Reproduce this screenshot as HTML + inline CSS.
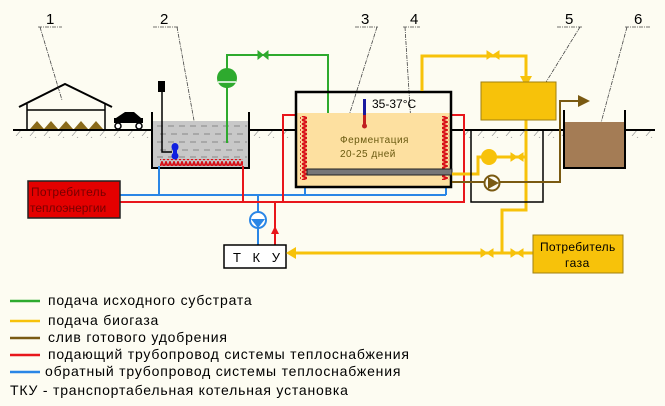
<!DOCTYPE html>
<html><head><meta charset="utf-8"><style>
html,body{margin:0;padding:0;background:#fdfcf2;}
svg{display:block;font-family:"Liberation Sans",sans-serif;}
</style></head><body>
<svg width="665" height="406" viewBox="0 0 665 406" xmlns="http://www.w3.org/2000/svg">
<defs>
<pattern id="coilH" width="4" height="7" patternUnits="userSpaceOnUse"><path d="M0,6 L2,1 L4,6" fill="none" stroke="#d81018" stroke-width="1.8"/></pattern>
<pattern id="coilV" width="7" height="4" patternUnits="userSpaceOnUse"><path d="M1,0 L6,2 L1,4" fill="none" stroke="#d81018" stroke-width="1.8"/></pattern>
<pattern id="hatch" width="14" height="8" patternUnits="userSpaceOnUse"><path d="M2,8 L8,1" stroke="#999" stroke-width="0.7"/></pattern>
</defs>
<rect width="665" height="406" fill="#fdfcf2"/>
<rect x="13" y="131" width="139" height="7" fill="url(#hatch)"/>
<rect x="250" y="131" width="45" height="7" fill="url(#hatch)"/>
<rect x="465" y="131" width="98" height="7" fill="url(#hatch)"/>
<rect x="625" y="131" width="30" height="7" fill="url(#hatch)"/>
<path d="M13,130 H152 M250,130 H295 M452,130 H563 M625,130 H655" stroke="#000" stroke-width="2"/>
<path d="M19,107 L65,84 L112,107" fill="none" stroke="#000" stroke-width="2"/>
<path d="M27,104 V130 M105,104 V130 M27,110 H105" stroke="#000" stroke-width="1.5"/>
<path d="M30,129 l7,-8 7,8 z M44,129 l7,-8 7,8 z M59,129 l7,-8 7,8 z M74,129 l7,-8 7,8 z M89,129 l7,-8 7,8 z" fill="#8a6a1a"/>
<path d="M116,118 L125,112 L134,112 L141,118" fill="#000"/>
<rect x="114" y="118" width="29" height="5" fill="#000"/>
<circle cx="118" cy="126" r="3" fill="#fff" stroke="#000" stroke-width="1.5"/>
<circle cx="139" cy="126" r="3" fill="#fff" stroke="#000" stroke-width="1.5"/>
<g stroke="#444" stroke-width="0.8" fill="none">
<path d="M38,27 H62 M40,27 L62,100" stroke-dasharray="4,1,1,1"/>
<path d="M153,27 H178 M177,27 L197,137" stroke-dasharray="4,1,1,1"/>
<path d="M355,27 H378 M377,27 L346,125" stroke-dasharray="4,1,1,1"/>
<path d="M403,27 H420 M405,27 L414,172" stroke-dasharray="4,1,1,1"/>
<path d="M557,27 H582 M580,27 L535,100" stroke-dasharray="4,1,1,1"/>
<path d="M625,27 H650 M627,27 L595,145" stroke-dasharray="4,1,1,1"/>
</g>
<g font-size="15" fill="#000">
<text x="46" y="24">1</text><text x="160" y="24">2</text><text x="361" y="24">3</text><text x="410" y="24">4</text><text x="565" y="24">5</text><text x="634" y="24">6</text>
</g>
<rect x="153" y="121" width="96" height="46" fill="#c8c8c8"/>
<g stroke="#888" stroke-width="1" stroke-dasharray="6,5">
<path d="M157,126 H247 M160,134 H247 M157,142 H247 M160,150 H247 M157,157 H247"/>
</g>
<path d="M152,112 V168 H249 V112" fill="none" stroke="#000" stroke-width="2"/>
<rect x="160" y="159" width="83" height="7" fill="url(#coilH)"/>
<rect x="158" y="81" width="7" height="11" fill="#000"/>
<path d="M162,92 V152 H172" fill="none" stroke="#000" stroke-width="1.5"/>
<ellipse cx="175" cy="147" rx="3.5" ry="4" fill="#1020e0"/><ellipse cx="175" cy="156" rx="3.5" ry="3.5" fill="#1020e0"/><rect x="173" y="147" width="4" height="9" fill="#1020e0"/>
<path d="M227,143 V55 H328 V128" fill="none" stroke="#2eaa2e" stroke-width="2"/>
<path d="M322,128 L334,128 L328,140 z" fill="#2eaa2e"/>
<circle cx="227" cy="78" r="10" fill="#2eaa2e"/><path d="M218,82 H236" stroke="#fff" stroke-width="1.5"/>
<path d="M258,51 L263,55 L258,59 z M268,51 L263,55 L268,59 z" fill="#2eaa2e" stroke="#2eaa2e"/>
<path d="M120,195 H446 M305,195 V180 M446,195 V180 M159,195 V166 M258,195 V212" fill="none" stroke="#2a86e6" stroke-width="2"/>
<path d="M120,202 H283 V115 H464 V202 H283 M243,202 V166 M275,202 V245" fill="none" stroke="#e8161c" stroke-width="2"/>
<path d="M271,234 L279,234 L275,226 z" fill="#e8161c"/>
<circle cx="258" cy="220" r="8" fill="#fff" stroke="#2a86e6" stroke-width="2"/><path d="M251,219 H265 L258,228 z" fill="#2a86e6"/>
<path d="M258,228 V245" stroke="#2a86e6" stroke-width="2"/>
<rect x="28" y="181" width="92" height="37" fill="#e40000" stroke="#222" stroke-width="1.5"/>
<text x="31" y="196" font-size="12" fill="#700" letter-spacing="0.3">Потребитель</text>
<text x="30" y="212" font-size="12" fill="#700">теплоэнергии</text>
<rect x="224" y="245" width="62" height="23" fill="#fff" stroke="#000" stroke-width="1.5"/>
<text x="233" y="262" font-size="13" letter-spacing="4">Т К У</text>
<rect x="296" y="113" width="155" height="73" fill="#fde0a0"/>
<rect x="296" y="92" width="155" height="95" fill="none" stroke="#000" stroke-width="2.5"/>
<rect x="300" y="116" width="7" height="64" fill="url(#coilV)"/>
<rect x="442" y="116" width="7" height="64" fill="url(#coilV)"/>
<rect x="307" y="169" width="145" height="6" fill="#777" stroke="#222" stroke-width="1"/>
<rect x="363" y="99" width="3" height="17" fill="#1a1aa0"/><rect x="363" y="115" width="3" height="11" fill="#c02020"/><circle cx="364.5" cy="126" r="2.5" fill="#c02020"/>
<text x="372" y="108" font-size="12">35-37°C</text>
<text x="340" y="143" font-size="10" fill="#6a5a10" letter-spacing="0.5">Ферментация</text>
<text x="340" y="157" font-size="10" fill="#6a5a10" letter-spacing="0.5">20-25 дней</text>
<g fill="none" stroke="#f7c20a" stroke-width="3">
<path d="M422,91 V56 H526 V76"/>
<path d="M526,120 V210 H502 V253 H296"/>
<path d="M502,253 H533"/>
<path d="M452,174 H478 V157 H482 M496,157 H526"/>
</g>
<path d="M520,76 L532,76 L526,87 z" fill="#f7c20a"/>
<path d="M296,247 L286,253 L296,259 z" fill="#f7c20a"/>
<path d="M487,51 L493,55 L487,59 z M499,51 L493,55 L499,59 z M481,249 L487,253 L481,257 z M493,249 L487,253 L493,257 z M511,249 L517,253 L511,257 z M523,249 L517,253 L523,257 z M511,153 L517,157 L511,161 z M523,153 L517,157 L523,161 z" fill="#f7c20a" stroke="#f7c20a"/>
<circle cx="489" cy="157" r="8" fill="#f7c20a"/>
<rect x="481" y="82" width="75" height="38" fill="#f7c20a" stroke="#a08010" stroke-width="1"/>
<rect x="533" y="235" width="90" height="38" fill="#f7c20a" stroke="#a08010" stroke-width="1"/>
<text x="540" y="251" font-size="12" letter-spacing="0.3">Потребитель</text>
<text x="565" y="267" font-size="12" letter-spacing="0.5">газа</text>
<rect x="471" y="130" width="72" height="72" fill="none" stroke="#000" stroke-width="1.5"/>
<path d="M452,182 H560 V101 H578" fill="none" stroke="#7a5a12" stroke-width="2"/>
<path d="M578,95 L590,101 L578,107 z" fill="#7a5a12"/>
<circle cx="492" cy="183" r="7.5" fill="#fdfcf2" stroke="#7a5a12" stroke-width="2"/><path d="M488,177 L499,183 L488,189 z" fill="#7a5a12"/>
<rect x="565" y="122" width="59" height="45" fill="#a47c55"/>
<path d="M564,110 V168 H625 V110" fill="none" stroke="#000" stroke-width="2"/>
<g stroke-width="2.5">
<path d="M10,301 H40" stroke="#2eaa2e"/>
<path d="M10,321 H40" stroke="#f7c20a"/>
<path d="M10,338 H40" stroke="#7a5a12"/>
<path d="M10,355 H40" stroke="#e8161c"/>
<path d="M10,372 H40" stroke="#2a86e6"/>
</g>
<g font-size="14" fill="#000" letter-spacing="0.8">
<text x="48" y="305">подача исходного субстрата</text>
<text x="48" y="325">подача биогаза</text>
<text x="48" y="342">слив готового удобрения</text>
<text x="48" y="359">подающий трубопровод системы теплоснабжения</text>
<text x="45" y="376">обратный трубопровод системы теплоснабжения</text>
<text x="10" y="395">ТКУ - транспортабельная котельная установка</text>
</g>
</svg>
</body></html>
